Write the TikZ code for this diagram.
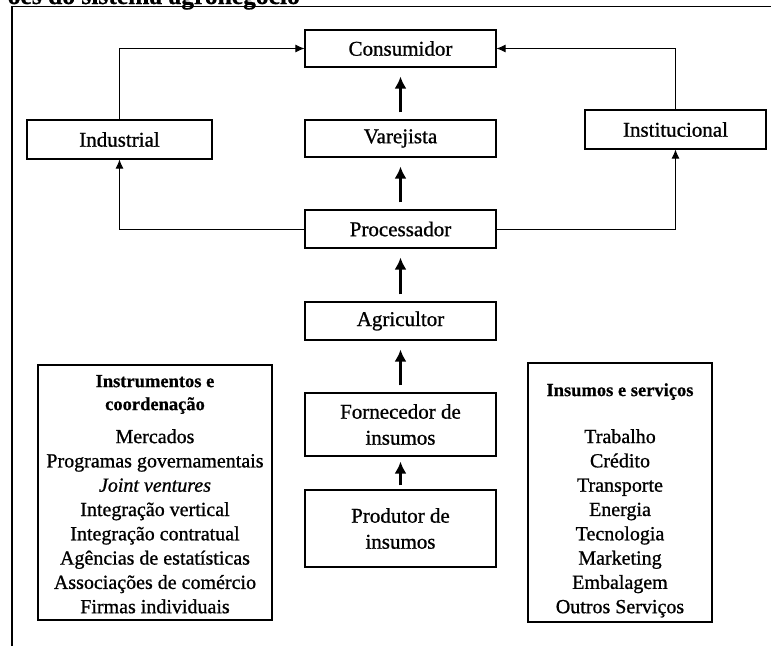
\documentclass[tikz,border=0pt]{standalone}
\usepackage{fontspec}
\setmainfont{Liberation Serif}[FakeBold=0.9]
\newfontfamily\boldserif{Liberation Serif Bold}[FakeBold=0.6]
\usetikzlibrary{arrows.meta}
\newcommand\lblfont{\fontsize{21}{26}\selectfont}
\newcommand\ptf{\boldserif\fontsize{18.5}{23}\selectfont}
\newcommand\panelitemfont{\fontsize{20}{24.3}\selectfont}
\newcommand\toptitlefont{\boldserif\fontsize{25.5}{30}\selectfont}
\begin{document}
\begin{tikzpicture}[x=1pt,y=-1pt,
  box/.style={draw, line width=1.1pt, inner sep=0pt, align=center, font=\lblfont},
  conn/.style={line width=0.9pt, -{Latex[length=9pt,width=8pt]}},
  flow/.style={line width=3.6pt, -{Latex[length=12pt,width=12pt]}, shorten <=7pt, shorten >=9pt},
  panel/.style={draw, line width=1.1pt, inner sep=0pt, align=center, font=\panelitemfont},
  frame/.style={line width=1.1pt}
]
\useasboundingbox (0,0) rectangle (771,646);
\begin{scope}
\clip (0,0) rectangle (771,646);
\node[anchor=base east, inner sep=0pt, font=\toptitlefont] (title) at (300,4) {ões do sistema agronegócio};
\end{scope}
\coordinate (fbl) at (12,646);
\coordinate (ftl) at (12,6.5);
\coordinate (ftr) at (771,6.5);
\draw[frame] (fbl) -- (ftl) -- (ftr);

\node[box, minimum width=191pt, minimum height=37pt] (cons) at (400.5,48.5) {Consumidor};
\node[box, minimum width=185pt, minimum height=39pt] (ind) at (119.5,139.5) {Industrial};
\node[box, minimum width=191pt, minimum height=37pt] (varj) at (400.5,138.5) {Varejista};
\node[box, minimum width=181pt, minimum height=39pt] (inst) at (675.5,129.5) {Institucional};
\node[box, minimum width=191pt, minimum height=38pt] (proc) at (400.5,229) {Processador};
\node[box, minimum width=191pt, minimum height=38pt] (agri) at (400.5,321) {Agricultor};
\node[box, minimum width=191pt, minimum height=63pt] (forn) at (400.5,424.5) {Fornecedor de\\insumos};
\node[box, minimum width=191pt, minimum height=77pt] (prod) at (400.5,528.5) {Produtor de\\insumos};

\node[panel, minimum width=234pt, minimum height=255pt] (instr) at (155,492.5)
  {\ptf\rule{0pt}{15.5pt}Instrumentos e\\[-1.3pt] \ptf coordenação\\[8.7pt]
   Mercados\\ Programas governamentais\\ \textit{Joint ventures}\\
   Integração vertical\\ Integração contratual\\ Agências de estatísticas\\
   Associações de comércio\\ Firmas individuais};
\node[panel, minimum width=184pt, minimum height=259pt] (insu) at (620,492.5)
  {\ptf\rule{0pt}{28.5pt}Insumos e serviços\\[22.7pt]
   Trabalho\\ Crédito\\ Transporte\\ Energia\\ Tecnologia\\
   Marketing\\ Embalagem\\ Outros Serviços};

\draw[conn] (ind.north) |- (cons.west);
\draw[conn] (inst.north) |- (cons.east);
\draw[conn] (proc.west) -| (ind.south);
\draw[conn] (proc.east) -| (inst.south);

\draw[flow] (varj.north) -- (cons.south);
\draw[flow] (proc.north) -- (varj.south);
\draw[flow] (agri.north) -- (proc.south);
\draw[flow] (forn.north) -- (agri.south);
\draw[flow, shorten <=4pt, shorten >=5pt] (prod.north) -- (forn.south);
\end{tikzpicture}
\end{document}
